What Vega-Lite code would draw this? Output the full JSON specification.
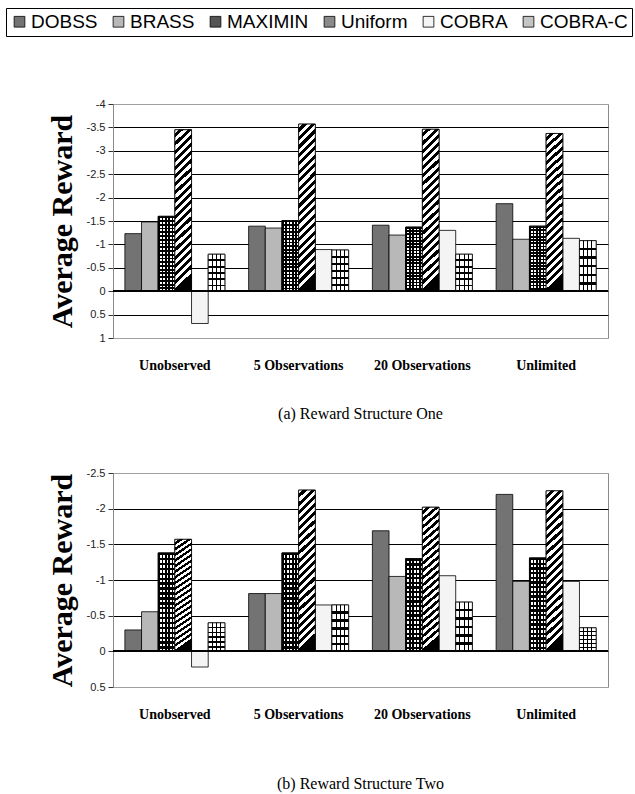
{
  "$schema": "https://vega.github.io/schema/vega-lite/v6.json",
  "background": "white",
  "padding": {"left": 5, "top": 7, "right": 0, "bottom": 0},
  "datasets": {
    "one": [
      {"condition": "Unobserved", "method": "DOBSS", "reward": -1.23},
      {"condition": "Unobserved", "method": "BRASS", "reward": -1.48},
      {"condition": "Unobserved", "method": "MAXIMIN", "reward": -1.6},
      {"condition": "Unobserved", "method": "Uniform", "reward": -3.45},
      {"condition": "Unobserved", "method": "COBRA", "reward": 0.69},
      {"condition": "Unobserved", "method": "COBRA-C", "reward": -0.79},
      {"condition": "5 Observations", "method": "DOBSS", "reward": -1.39},
      {"condition": "5 Observations", "method": "BRASS", "reward": -1.35},
      {"condition": "5 Observations", "method": "MAXIMIN", "reward": -1.51},
      {"condition": "5 Observations", "method": "Uniform", "reward": -3.57},
      {"condition": "5 Observations", "method": "COBRA", "reward": -0.89},
      {"condition": "5 Observations", "method": "COBRA-C", "reward": -0.88},
      {"condition": "20 Observations", "method": "DOBSS", "reward": -1.41},
      {"condition": "20 Observations", "method": "BRASS", "reward": -1.2},
      {"condition": "20 Observations", "method": "MAXIMIN", "reward": -1.37},
      {"condition": "20 Observations", "method": "Uniform", "reward": -3.46},
      {"condition": "20 Observations", "method": "COBRA", "reward": -1.3},
      {"condition": "20 Observations", "method": "COBRA-C", "reward": -0.79},
      {"condition": "Unlimited", "method": "DOBSS", "reward": -1.87},
      {"condition": "Unlimited", "method": "BRASS", "reward": -1.11},
      {"condition": "Unlimited", "method": "MAXIMIN", "reward": -1.39},
      {"condition": "Unlimited", "method": "Uniform", "reward": -3.37},
      {"condition": "Unlimited", "method": "COBRA", "reward": -1.13},
      {"condition": "Unlimited", "method": "COBRA-C", "reward": -1.08}
    ],
    "two": [
      {"condition": "Unobserved", "method": "DOBSS", "reward": -0.3},
      {"condition": "Unobserved", "method": "BRASS", "reward": -0.555},
      {"condition": "Unobserved", "method": "MAXIMIN", "reward": -1.38},
      {"condition": "Unobserved", "method": "Uniform", "reward": -1.57},
      {"condition": "Unobserved", "method": "COBRA", "reward": 0.22},
      {"condition": "Unobserved", "method": "COBRA-C", "reward": -0.4},
      {"condition": "5 Observations", "method": "DOBSS", "reward": -0.81},
      {"condition": "5 Observations", "method": "BRASS", "reward": -0.81},
      {"condition": "5 Observations", "method": "MAXIMIN", "reward": -1.38},
      {"condition": "5 Observations", "method": "Uniform", "reward": -2.26},
      {"condition": "5 Observations", "method": "COBRA", "reward": -0.65},
      {"condition": "5 Observations", "method": "COBRA-C", "reward": -0.65},
      {"condition": "20 Observations", "method": "DOBSS", "reward": -1.69},
      {"condition": "20 Observations", "method": "BRASS", "reward": -1.05},
      {"condition": "20 Observations", "method": "MAXIMIN", "reward": -1.3},
      {"condition": "20 Observations", "method": "Uniform", "reward": -2.02},
      {"condition": "20 Observations", "method": "COBRA", "reward": -1.06},
      {"condition": "20 Observations", "method": "COBRA-C", "reward": -0.69},
      {"condition": "Unlimited", "method": "DOBSS", "reward": -2.2},
      {"condition": "Unlimited", "method": "BRASS", "reward": -0.98},
      {"condition": "Unlimited", "method": "MAXIMIN", "reward": -1.31},
      {"condition": "Unlimited", "method": "Uniform", "reward": -2.25},
      {"condition": "Unlimited", "method": "COBRA", "reward": -0.98},
      {"condition": "Unlimited", "method": "COBRA-C", "reward": -0.33}
    ]
  },
  "config": {
    "view": {"stroke": "#8a8a8a", "strokeWidth": 1},
    "axisY": {
      "domainColor": "#8a8a8a",
      "tickColor": "#333",
      "tickSize": 5,
      "tickCount": 30,
      "labelFont": "Liberation Sans",
      "labelFontSize": 11,
      "labelColor": "#222",
      "labelPadding": 3,
      "labelOverlap": false,
      "grid": true,
      "gridWidth": 1,
      "titleFont": "Liberation Serif",
      "titleFontSize": 30,
      "titleFontWeight": "bold",
      "titleColor": "#000",
      "titlePadding": 9,
      "labelExpr": "(datum.value < 0 ? '-' : '') + format(abs(datum.value), '')"
    },
    "axisX": {
      "domain": false,
      "ticks": false,
      "tickSize": 0,
      "grid": false,
      "labelAngle": 0,
      "labelFont": "Liberation Serif",
      "labelFontWeight": "bold",
      "labelFontSize": 14,
      "labelColor": "#000",
      "labelPadding": 20,
      "title": null
    },
    "legend": {
      "orient": "none",
      "direction": "horizontal",
      "legendX": -107,
      "legendY": -96,
      "strokeColor": "#000",
      "fillColor": "#fff",
      "padding": 4,
      "labelFont": "Liberation Sans",
      "labelFontSize": 19,
      "labelColor": "#000",
      "symbolType": "square",
      "symbolSize": 115,
      "symbolStrokeColor": "#000",
      "symbolStrokeWidth": 0.8,
      "symbolOpacity": 1,
      "labelOffset": 2,
      "columnPadding": 11,
      "title": null
    },
    "title": {
      "font": "Liberation Serif",
      "fontSize": 16,
      "fontWeight": "normal",
      "color": "#000",
      "orient": "bottom",
      "anchor": "middle"
    }
  },
  "spacing": 43,
  "vconcat": [
    {
      "width": 495,
      "height": 234,
      "data": {"name": "one"},
      "title": {"text": "(a) Reward Structure One", "offset": 34},
      "encoding": {
        "x": {"field": "condition", "type": "nominal", "sort": ["Unobserved", "5 Observations", "20 Observations", "Unlimited"], "scale": {"paddingInner": 0.192, "paddingOuter": 0.096}},
        "xOffset": {"field": "method", "type": "nominal", "sort": ["DOBSS", "BRASS", "MAXIMIN", "Uniform", "COBRA", "COBRA-C"], "scale": {"domain": ["DOBSS", "BRASS", "MAXIMIN", "Uniform", "COBRA", "COBRA-C"], "paddingInner": 0, "paddingOuter": 0}},
        "y": {"field": "reward", "type": "quantitative", "scale": {"domain": [-4, 1], "reverse": true, "nice": false}, "axis": {"title": "Average Reward", "values": [-4, -3.5, -3, -2.5, -2, -1.5, -1, -0.5, 0, 0.5, 1], "gridColor": {"condition": {"test": "datum.value == -4 || datum.value == 1", "value": "#a0a0a0"}, "value": "#000000"}}}
      },
      "layer": [
        {
          "mark": {"type": "bar", "stroke": "#000", "strokeWidth": 0.8},
          "encoding": {
            "color": {"field": "method", "type": "nominal", "sort": ["DOBSS", "BRASS", "MAXIMIN", "Uniform", "COBRA", "COBRA-C"], "scale": {"domain": ["DOBSS", "BRASS", "MAXIMIN", "Uniform", "COBRA", "COBRA-C"], "range": ["#737373", "#b8b8b8", "#555555", "#8a8a8a", "#f4f4f4", "#c4c4c4"]}}
          }
        },
        {
          "transform": [{"filter": "datum.method == 'MAXIMIN'"}],
          "mark": {"type": "bar", "stroke": "#000", "strokeWidth": 0.8, "fill": {"gradient": "linear", "x1": 0, "y1": 0, "x2": 1, "y2": 0, "stops": [
                {"offset": 0, "color": "#000"}, {"offset": 0.1, "color": "#000"}, {"offset": 0.1, "color": "#fff"}, {"offset": 0.2, "color": "#fff"},
                {"offset": 0.2, "color": "#000"}, {"offset": 0.3, "color": "#000"}, {"offset": 0.3, "color": "#fff"}, {"offset": 0.4, "color": "#fff"},
                {"offset": 0.4, "color": "#000"}, {"offset": 0.5, "color": "#000"}, {"offset": 0.5, "color": "#fff"}, {"offset": 0.6, "color": "#fff"},
                {"offset": 0.6, "color": "#000"}, {"offset": 0.7, "color": "#000"}, {"offset": 0.7, "color": "#fff"}, {"offset": 0.8, "color": "#fff"},
                {"offset": 0.8, "color": "#000"}, {"offset": 0.9, "color": "#000"}, {"offset": 0.9, "color": "#fff"}, {"offset": 1, "color": "#fff"}
              ]}},
          "encoding": {}
        },
        {
          "transform": [{"filter": "datum.method == 'MAXIMIN'"}],
          "mark": {"type": "bar", "strokeWidth": 0, "fill": {"gradient": "linear", "x1": 0, "y1": 0, "x2": 0, "y2": 1, "stops": [
                {"offset": 0, "color": "#000"}, {"offset": 0.025, "color": "#000"}, {"offset": 0.025, "color": "rgba(0,0,0,0)"}, {"offset": 0.05, "color": "rgba(0,0,0,0)"},
                {"offset": 0.05, "color": "#000"}, {"offset": 0.075, "color": "#000"}, {"offset": 0.075, "color": "rgba(0,0,0,0)"}, {"offset": 0.1, "color": "rgba(0,0,0,0)"},
                {"offset": 0.1, "color": "#000"}, {"offset": 0.125, "color": "#000"}, {"offset": 0.125, "color": "rgba(0,0,0,0)"}, {"offset": 0.15, "color": "rgba(0,0,0,0)"},
                {"offset": 0.15, "color": "#000"}, {"offset": 0.175, "color": "#000"}, {"offset": 0.175, "color": "rgba(0,0,0,0)"}, {"offset": 0.2, "color": "rgba(0,0,0,0)"},
                {"offset": 0.2, "color": "#000"}, {"offset": 0.225, "color": "#000"}, {"offset": 0.225, "color": "rgba(0,0,0,0)"}, {"offset": 0.25, "color": "rgba(0,0,0,0)"},
                {"offset": 0.25, "color": "#000"}, {"offset": 0.275, "color": "#000"}, {"offset": 0.275, "color": "rgba(0,0,0,0)"}, {"offset": 0.3, "color": "rgba(0,0,0,0)"},
                {"offset": 0.3, "color": "#000"}, {"offset": 0.325, "color": "#000"}, {"offset": 0.325, "color": "rgba(0,0,0,0)"}, {"offset": 0.35, "color": "rgba(0,0,0,0)"},
                {"offset": 0.35, "color": "#000"}, {"offset": 0.375, "color": "#000"}, {"offset": 0.375, "color": "rgba(0,0,0,0)"}, {"offset": 0.4, "color": "rgba(0,0,0,0)"},
                {"offset": 0.4, "color": "#000"}, {"offset": 0.425, "color": "#000"}, {"offset": 0.425, "color": "rgba(0,0,0,0)"}, {"offset": 0.45, "color": "rgba(0,0,0,0)"},
                {"offset": 0.45, "color": "#000"}, {"offset": 0.475, "color": "#000"}, {"offset": 0.475, "color": "rgba(0,0,0,0)"}, {"offset": 0.5, "color": "rgba(0,0,0,0)"},
                {"offset": 0.5, "color": "#000"}, {"offset": 0.525, "color": "#000"}, {"offset": 0.525, "color": "rgba(0,0,0,0)"}, {"offset": 0.55, "color": "rgba(0,0,0,0)"},
                {"offset": 0.55, "color": "#000"}, {"offset": 0.575, "color": "#000"}, {"offset": 0.575, "color": "rgba(0,0,0,0)"}, {"offset": 0.6, "color": "rgba(0,0,0,0)"},
                {"offset": 0.6, "color": "#000"}, {"offset": 0.625, "color": "#000"}, {"offset": 0.625, "color": "rgba(0,0,0,0)"}, {"offset": 0.65, "color": "rgba(0,0,0,0)"},
                {"offset": 0.65, "color": "#000"}, {"offset": 0.675, "color": "#000"}, {"offset": 0.675, "color": "rgba(0,0,0,0)"}, {"offset": 0.7, "color": "rgba(0,0,0,0)"},
                {"offset": 0.7, "color": "#000"}, {"offset": 0.725, "color": "#000"}, {"offset": 0.725, "color": "rgba(0,0,0,0)"}, {"offset": 0.75, "color": "rgba(0,0,0,0)"},
                {"offset": 0.75, "color": "#000"}, {"offset": 0.775, "color": "#000"}, {"offset": 0.775, "color": "rgba(0,0,0,0)"}, {"offset": 0.8, "color": "rgba(0,0,0,0)"},
                {"offset": 0.8, "color": "#000"}, {"offset": 0.825, "color": "#000"}, {"offset": 0.825, "color": "rgba(0,0,0,0)"}, {"offset": 0.85, "color": "rgba(0,0,0,0)"},
                {"offset": 0.85, "color": "#000"}, {"offset": 0.875, "color": "#000"}, {"offset": 0.875, "color": "rgba(0,0,0,0)"}, {"offset": 0.9, "color": "rgba(0,0,0,0)"},
                {"offset": 0.9, "color": "#000"}, {"offset": 0.925, "color": "#000"}, {"offset": 0.925, "color": "rgba(0,0,0,0)"}, {"offset": 0.95, "color": "rgba(0,0,0,0)"},
                {"offset": 0.95, "color": "#000"}, {"offset": 0.975, "color": "#000"}, {"offset": 0.975, "color": "rgba(0,0,0,0)"}, {"offset": 1, "color": "rgba(0,0,0,0)"}
              ]}},
          "encoding": {}
        },
        {
          "transform": [{"filter": "datum.method == 'Uniform'"}],
          "mark": {"type": "bar", "stroke": "#000", "strokeWidth": 0.8, "fill": {"gradient": "linear", "x1": 0, "y1": 0, "x2": 0.1, "y2": 1, "stops": [
                {"offset": 0, "color": "#fff"}, {"offset": 0.025, "color": "#fff"}, {"offset": 0.025, "color": "#000"}, {"offset": 0.05, "color": "#000"},
                {"offset": 0.05, "color": "#fff"}, {"offset": 0.075, "color": "#fff"}, {"offset": 0.075, "color": "#000"}, {"offset": 0.1, "color": "#000"},
                {"offset": 0.1, "color": "#fff"}, {"offset": 0.125, "color": "#fff"}, {"offset": 0.125, "color": "#000"}, {"offset": 0.15, "color": "#000"},
                {"offset": 0.15, "color": "#fff"}, {"offset": 0.175, "color": "#fff"}, {"offset": 0.175, "color": "#000"}, {"offset": 0.2, "color": "#000"},
                {"offset": 0.2, "color": "#fff"}, {"offset": 0.225, "color": "#fff"}, {"offset": 0.225, "color": "#000"}, {"offset": 0.25, "color": "#000"},
                {"offset": 0.25, "color": "#fff"}, {"offset": 0.275, "color": "#fff"}, {"offset": 0.275, "color": "#000"}, {"offset": 0.3, "color": "#000"},
                {"offset": 0.3, "color": "#fff"}, {"offset": 0.325, "color": "#fff"}, {"offset": 0.325, "color": "#000"}, {"offset": 0.35, "color": "#000"},
                {"offset": 0.35, "color": "#fff"}, {"offset": 0.375, "color": "#fff"}, {"offset": 0.375, "color": "#000"}, {"offset": 0.4, "color": "#000"},
                {"offset": 0.4, "color": "#fff"}, {"offset": 0.425, "color": "#fff"}, {"offset": 0.425, "color": "#000"}, {"offset": 0.45, "color": "#000"},
                {"offset": 0.45, "color": "#fff"}, {"offset": 0.475, "color": "#fff"}, {"offset": 0.475, "color": "#000"}, {"offset": 0.5, "color": "#000"},
                {"offset": 0.5, "color": "#fff"}, {"offset": 0.525, "color": "#fff"}, {"offset": 0.525, "color": "#000"}, {"offset": 0.55, "color": "#000"},
                {"offset": 0.55, "color": "#fff"}, {"offset": 0.575, "color": "#fff"}, {"offset": 0.575, "color": "#000"}, {"offset": 0.6, "color": "#000"},
                {"offset": 0.6, "color": "#fff"}, {"offset": 0.625, "color": "#fff"}, {"offset": 0.625, "color": "#000"}, {"offset": 0.65, "color": "#000"},
                {"offset": 0.65, "color": "#fff"}, {"offset": 0.675, "color": "#fff"}, {"offset": 0.675, "color": "#000"}, {"offset": 0.7, "color": "#000"},
                {"offset": 0.7, "color": "#fff"}, {"offset": 0.725, "color": "#fff"}, {"offset": 0.725, "color": "#000"}, {"offset": 0.75, "color": "#000"},
                {"offset": 0.75, "color": "#fff"}, {"offset": 0.775, "color": "#fff"}, {"offset": 0.775, "color": "#000"}, {"offset": 0.8, "color": "#000"},
                {"offset": 0.8, "color": "#fff"}, {"offset": 0.825, "color": "#fff"}, {"offset": 0.825, "color": "#000"}, {"offset": 0.85, "color": "#000"},
                {"offset": 0.85, "color": "#fff"}, {"offset": 0.875, "color": "#fff"}, {"offset": 0.875, "color": "#000"}, {"offset": 0.9, "color": "#000"},
                {"offset": 0.9, "color": "#fff"}, {"offset": 0.925, "color": "#fff"}, {"offset": 0.925, "color": "#000"}, {"offset": 0.95, "color": "#000"},
                {"offset": 0.95, "color": "#fff"}, {"offset": 0.975, "color": "#fff"}, {"offset": 0.975, "color": "#000"}, {"offset": 1, "color": "#000"}
              ]}},
          "encoding": {}
        },
        {
          "transform": [{"filter": "datum.method == 'COBRA-C'"}],
          "mark": {"type": "bar", "stroke": "#000", "strokeWidth": 0.8, "fill": {"gradient": "linear", "x1": 0, "y1": 0, "x2": 1, "y2": 0, "stops": [
                {"offset": 0, "color": "#fff"}, {"offset": 0.22, "color": "#fff"}, {"offset": 0.22, "color": "#000"}, {"offset": 0.28, "color": "#000"},
                {"offset": 0.28, "color": "#fff"}, {"offset": 0.47, "color": "#fff"}, {"offset": 0.47, "color": "#000"}, {"offset": 0.53, "color": "#000"},
                {"offset": 0.53, "color": "#fff"}, {"offset": 0.72, "color": "#fff"}, {"offset": 0.72, "color": "#000"}, {"offset": 0.78, "color": "#000"},
                {"offset": 0.78, "color": "#fff"}, {"offset": 1, "color": "#fff"}
              ]}},
          "encoding": {}
        },
        {
          "transform": [{"filter": "datum.method == 'COBRA-C'"}],
          "mark": {"type": "bar", "strokeWidth": 0, "fill": {"gradient": "linear", "x1": 0, "y1": 0, "x2": 0, "y2": 1, "stops": [
                {"offset": 0, "color": "rgba(0,0,0,0)"}, {"offset": 0.14, "color": "rgba(0,0,0,0)"}, {"offset": 0.14, "color": "#000"}, {"offset": 0.19, "color": "#000"},
                {"offset": 0.19, "color": "rgba(0,0,0,0)"}, {"offset": 0.31, "color": "rgba(0,0,0,0)"}, {"offset": 0.31, "color": "#000"}, {"offset": 0.36, "color": "#000"},
                {"offset": 0.36, "color": "rgba(0,0,0,0)"}, {"offset": 0.48, "color": "rgba(0,0,0,0)"}, {"offset": 0.48, "color": "#000"}, {"offset": 0.53, "color": "#000"},
                {"offset": 0.53, "color": "rgba(0,0,0,0)"}, {"offset": 0.65, "color": "rgba(0,0,0,0)"}, {"offset": 0.65, "color": "#000"}, {"offset": 0.7, "color": "#000"},
                {"offset": 0.7, "color": "rgba(0,0,0,0)"}, {"offset": 0.82, "color": "rgba(0,0,0,0)"}, {"offset": 0.82, "color": "#000"}, {"offset": 0.87, "color": "#000"},
                {"offset": 0.87, "color": "rgba(0,0,0,0)"}, {"offset": 1, "color": "rgba(0,0,0,0)"}
              ]}},
          "encoding": {}
        },
        {
          "mark": {"type": "rule", "color": "#000", "strokeWidth": 1},
          "encoding": {"y": {"datum": 0}, "x": null, "xOffset": null}
        }
      ]
    },
    {
      "width": 495,
      "height": 214,
      "data": {"name": "two"},
      "title": {"text": "(b) Reward Structure Two", "offset": 55},
      "encoding": {
        "x": {"field": "condition", "type": "nominal", "sort": ["Unobserved", "5 Observations", "20 Observations", "Unlimited"], "scale": {"paddingInner": 0.192, "paddingOuter": 0.096}},
        "xOffset": {"field": "method", "type": "nominal", "sort": ["DOBSS", "BRASS", "MAXIMIN", "Uniform", "COBRA", "COBRA-C"], "scale": {"domain": ["DOBSS", "BRASS", "MAXIMIN", "Uniform", "COBRA", "COBRA-C"], "paddingInner": 0, "paddingOuter": 0}},
        "y": {"field": "reward", "type": "quantitative", "scale": {"domain": [-2.5, 0.5], "reverse": true, "nice": false}, "axis": {"title": "Average Reward", "values": [-2.5, -2, -1.5, -1, -0.5, 0, 0.5], "gridColor": {"condition": {"test": "datum.value == -2.5 || datum.value == 0.5", "value": "#a0a0a0"}, "value": "#000000"}}}
      },
      "layer": [
        {
          "mark": {"type": "bar", "stroke": "#000", "strokeWidth": 0.8},
          "encoding": {
            "color": {"field": "method", "type": "nominal", "sort": ["DOBSS", "BRASS", "MAXIMIN", "Uniform", "COBRA", "COBRA-C"]}
          }
        },
        {
          "transform": [{"filter": "datum.method == 'MAXIMIN'"}],
          "mark": {"type": "bar", "stroke": "#000", "strokeWidth": 0.8, "fill": {"gradient": "linear", "x1": 0, "y1": 0, "x2": 1, "y2": 0, "stops": [
                {"offset": 0, "color": "#000"}, {"offset": 0.1, "color": "#000"}, {"offset": 0.1, "color": "#fff"}, {"offset": 0.2, "color": "#fff"},
                {"offset": 0.2, "color": "#000"}, {"offset": 0.3, "color": "#000"}, {"offset": 0.3, "color": "#fff"}, {"offset": 0.4, "color": "#fff"},
                {"offset": 0.4, "color": "#000"}, {"offset": 0.5, "color": "#000"}, {"offset": 0.5, "color": "#fff"}, {"offset": 0.6, "color": "#fff"},
                {"offset": 0.6, "color": "#000"}, {"offset": 0.7, "color": "#000"}, {"offset": 0.7, "color": "#fff"}, {"offset": 0.8, "color": "#fff"},
                {"offset": 0.8, "color": "#000"}, {"offset": 0.9, "color": "#000"}, {"offset": 0.9, "color": "#fff"}, {"offset": 1, "color": "#fff"}
              ]}},
          "encoding": {}
        },
        {
          "transform": [{"filter": "datum.method == 'MAXIMIN'"}],
          "mark": {"type": "bar", "strokeWidth": 0, "fill": {"gradient": "linear", "x1": 0, "y1": 0, "x2": 0, "y2": 1, "stops": [
                {"offset": 0, "color": "#000"}, {"offset": 0.025, "color": "#000"}, {"offset": 0.025, "color": "rgba(0,0,0,0)"}, {"offset": 0.05, "color": "rgba(0,0,0,0)"},
                {"offset": 0.05, "color": "#000"}, {"offset": 0.075, "color": "#000"}, {"offset": 0.075, "color": "rgba(0,0,0,0)"}, {"offset": 0.1, "color": "rgba(0,0,0,0)"},
                {"offset": 0.1, "color": "#000"}, {"offset": 0.125, "color": "#000"}, {"offset": 0.125, "color": "rgba(0,0,0,0)"}, {"offset": 0.15, "color": "rgba(0,0,0,0)"},
                {"offset": 0.15, "color": "#000"}, {"offset": 0.175, "color": "#000"}, {"offset": 0.175, "color": "rgba(0,0,0,0)"}, {"offset": 0.2, "color": "rgba(0,0,0,0)"},
                {"offset": 0.2, "color": "#000"}, {"offset": 0.225, "color": "#000"}, {"offset": 0.225, "color": "rgba(0,0,0,0)"}, {"offset": 0.25, "color": "rgba(0,0,0,0)"},
                {"offset": 0.25, "color": "#000"}, {"offset": 0.275, "color": "#000"}, {"offset": 0.275, "color": "rgba(0,0,0,0)"}, {"offset": 0.3, "color": "rgba(0,0,0,0)"},
                {"offset": 0.3, "color": "#000"}, {"offset": 0.325, "color": "#000"}, {"offset": 0.325, "color": "rgba(0,0,0,0)"}, {"offset": 0.35, "color": "rgba(0,0,0,0)"},
                {"offset": 0.35, "color": "#000"}, {"offset": 0.375, "color": "#000"}, {"offset": 0.375, "color": "rgba(0,0,0,0)"}, {"offset": 0.4, "color": "rgba(0,0,0,0)"},
                {"offset": 0.4, "color": "#000"}, {"offset": 0.425, "color": "#000"}, {"offset": 0.425, "color": "rgba(0,0,0,0)"}, {"offset": 0.45, "color": "rgba(0,0,0,0)"},
                {"offset": 0.45, "color": "#000"}, {"offset": 0.475, "color": "#000"}, {"offset": 0.475, "color": "rgba(0,0,0,0)"}, {"offset": 0.5, "color": "rgba(0,0,0,0)"},
                {"offset": 0.5, "color": "#000"}, {"offset": 0.525, "color": "#000"}, {"offset": 0.525, "color": "rgba(0,0,0,0)"}, {"offset": 0.55, "color": "rgba(0,0,0,0)"},
                {"offset": 0.55, "color": "#000"}, {"offset": 0.575, "color": "#000"}, {"offset": 0.575, "color": "rgba(0,0,0,0)"}, {"offset": 0.6, "color": "rgba(0,0,0,0)"},
                {"offset": 0.6, "color": "#000"}, {"offset": 0.625, "color": "#000"}, {"offset": 0.625, "color": "rgba(0,0,0,0)"}, {"offset": 0.65, "color": "rgba(0,0,0,0)"},
                {"offset": 0.65, "color": "#000"}, {"offset": 0.675, "color": "#000"}, {"offset": 0.675, "color": "rgba(0,0,0,0)"}, {"offset": 0.7, "color": "rgba(0,0,0,0)"},
                {"offset": 0.7, "color": "#000"}, {"offset": 0.725, "color": "#000"}, {"offset": 0.725, "color": "rgba(0,0,0,0)"}, {"offset": 0.75, "color": "rgba(0,0,0,0)"},
                {"offset": 0.75, "color": "#000"}, {"offset": 0.775, "color": "#000"}, {"offset": 0.775, "color": "rgba(0,0,0,0)"}, {"offset": 0.8, "color": "rgba(0,0,0,0)"},
                {"offset": 0.8, "color": "#000"}, {"offset": 0.825, "color": "#000"}, {"offset": 0.825, "color": "rgba(0,0,0,0)"}, {"offset": 0.85, "color": "rgba(0,0,0,0)"},
                {"offset": 0.85, "color": "#000"}, {"offset": 0.875, "color": "#000"}, {"offset": 0.875, "color": "rgba(0,0,0,0)"}, {"offset": 0.9, "color": "rgba(0,0,0,0)"},
                {"offset": 0.9, "color": "#000"}, {"offset": 0.925, "color": "#000"}, {"offset": 0.925, "color": "rgba(0,0,0,0)"}, {"offset": 0.95, "color": "rgba(0,0,0,0)"},
                {"offset": 0.95, "color": "#000"}, {"offset": 0.975, "color": "#000"}, {"offset": 0.975, "color": "rgba(0,0,0,0)"}, {"offset": 1, "color": "rgba(0,0,0,0)"}
              ]}},
          "encoding": {}
        },
        {
          "transform": [{"filter": "datum.method == 'Uniform'"}],
          "mark": {"type": "bar", "stroke": "#000", "strokeWidth": 0.8, "fill": {"gradient": "linear", "x1": 0, "y1": 0, "x2": 0.1, "y2": 1, "stops": [
                {"offset": 0, "color": "#fff"}, {"offset": 0.025, "color": "#fff"}, {"offset": 0.025, "color": "#000"}, {"offset": 0.05, "color": "#000"},
                {"offset": 0.05, "color": "#fff"}, {"offset": 0.075, "color": "#fff"}, {"offset": 0.075, "color": "#000"}, {"offset": 0.1, "color": "#000"},
                {"offset": 0.1, "color": "#fff"}, {"offset": 0.125, "color": "#fff"}, {"offset": 0.125, "color": "#000"}, {"offset": 0.15, "color": "#000"},
                {"offset": 0.15, "color": "#fff"}, {"offset": 0.175, "color": "#fff"}, {"offset": 0.175, "color": "#000"}, {"offset": 0.2, "color": "#000"},
                {"offset": 0.2, "color": "#fff"}, {"offset": 0.225, "color": "#fff"}, {"offset": 0.225, "color": "#000"}, {"offset": 0.25, "color": "#000"},
                {"offset": 0.25, "color": "#fff"}, {"offset": 0.275, "color": "#fff"}, {"offset": 0.275, "color": "#000"}, {"offset": 0.3, "color": "#000"},
                {"offset": 0.3, "color": "#fff"}, {"offset": 0.325, "color": "#fff"}, {"offset": 0.325, "color": "#000"}, {"offset": 0.35, "color": "#000"},
                {"offset": 0.35, "color": "#fff"}, {"offset": 0.375, "color": "#fff"}, {"offset": 0.375, "color": "#000"}, {"offset": 0.4, "color": "#000"},
                {"offset": 0.4, "color": "#fff"}, {"offset": 0.425, "color": "#fff"}, {"offset": 0.425, "color": "#000"}, {"offset": 0.45, "color": "#000"},
                {"offset": 0.45, "color": "#fff"}, {"offset": 0.475, "color": "#fff"}, {"offset": 0.475, "color": "#000"}, {"offset": 0.5, "color": "#000"},
                {"offset": 0.5, "color": "#fff"}, {"offset": 0.525, "color": "#fff"}, {"offset": 0.525, "color": "#000"}, {"offset": 0.55, "color": "#000"},
                {"offset": 0.55, "color": "#fff"}, {"offset": 0.575, "color": "#fff"}, {"offset": 0.575, "color": "#000"}, {"offset": 0.6, "color": "#000"},
                {"offset": 0.6, "color": "#fff"}, {"offset": 0.625, "color": "#fff"}, {"offset": 0.625, "color": "#000"}, {"offset": 0.65, "color": "#000"},
                {"offset": 0.65, "color": "#fff"}, {"offset": 0.675, "color": "#fff"}, {"offset": 0.675, "color": "#000"}, {"offset": 0.7, "color": "#000"},
                {"offset": 0.7, "color": "#fff"}, {"offset": 0.725, "color": "#fff"}, {"offset": 0.725, "color": "#000"}, {"offset": 0.75, "color": "#000"},
                {"offset": 0.75, "color": "#fff"}, {"offset": 0.775, "color": "#fff"}, {"offset": 0.775, "color": "#000"}, {"offset": 0.8, "color": "#000"},
                {"offset": 0.8, "color": "#fff"}, {"offset": 0.825, "color": "#fff"}, {"offset": 0.825, "color": "#000"}, {"offset": 0.85, "color": "#000"},
                {"offset": 0.85, "color": "#fff"}, {"offset": 0.875, "color": "#fff"}, {"offset": 0.875, "color": "#000"}, {"offset": 0.9, "color": "#000"},
                {"offset": 0.9, "color": "#fff"}, {"offset": 0.925, "color": "#fff"}, {"offset": 0.925, "color": "#000"}, {"offset": 0.95, "color": "#000"},
                {"offset": 0.95, "color": "#fff"}, {"offset": 0.975, "color": "#fff"}, {"offset": 0.975, "color": "#000"}, {"offset": 1, "color": "#000"}
              ]}},
          "encoding": {}
        },
        {
          "transform": [{"filter": "datum.method == 'COBRA-C'"}],
          "mark": {"type": "bar", "stroke": "#000", "strokeWidth": 0.8, "fill": {"gradient": "linear", "x1": 0, "y1": 0, "x2": 1, "y2": 0, "stops": [
                {"offset": 0, "color": "#fff"}, {"offset": 0.22, "color": "#fff"}, {"offset": 0.22, "color": "#000"}, {"offset": 0.28, "color": "#000"},
                {"offset": 0.28, "color": "#fff"}, {"offset": 0.47, "color": "#fff"}, {"offset": 0.47, "color": "#000"}, {"offset": 0.53, "color": "#000"},
                {"offset": 0.53, "color": "#fff"}, {"offset": 0.72, "color": "#fff"}, {"offset": 0.72, "color": "#000"}, {"offset": 0.78, "color": "#000"},
                {"offset": 0.78, "color": "#fff"}, {"offset": 1, "color": "#fff"}
              ]}},
          "encoding": {}
        },
        {
          "transform": [{"filter": "datum.method == 'COBRA-C'"}],
          "mark": {"type": "bar", "strokeWidth": 0, "fill": {"gradient": "linear", "x1": 0, "y1": 0, "x2": 0, "y2": 1, "stops": [
                {"offset": 0, "color": "rgba(0,0,0,0)"}, {"offset": 0.14, "color": "rgba(0,0,0,0)"}, {"offset": 0.14, "color": "#000"}, {"offset": 0.19, "color": "#000"},
                {"offset": 0.19, "color": "rgba(0,0,0,0)"}, {"offset": 0.31, "color": "rgba(0,0,0,0)"}, {"offset": 0.31, "color": "#000"}, {"offset": 0.36, "color": "#000"},
                {"offset": 0.36, "color": "rgba(0,0,0,0)"}, {"offset": 0.48, "color": "rgba(0,0,0,0)"}, {"offset": 0.48, "color": "#000"}, {"offset": 0.53, "color": "#000"},
                {"offset": 0.53, "color": "rgba(0,0,0,0)"}, {"offset": 0.65, "color": "rgba(0,0,0,0)"}, {"offset": 0.65, "color": "#000"}, {"offset": 0.7, "color": "#000"},
                {"offset": 0.7, "color": "rgba(0,0,0,0)"}, {"offset": 0.82, "color": "rgba(0,0,0,0)"}, {"offset": 0.82, "color": "#000"}, {"offset": 0.87, "color": "#000"},
                {"offset": 0.87, "color": "rgba(0,0,0,0)"}, {"offset": 1, "color": "rgba(0,0,0,0)"}
              ]}},
          "encoding": {}
        },
        {
          "mark": {"type": "rule", "color": "#000", "strokeWidth": 1},
          "encoding": {"y": {"datum": 0}, "x": null, "xOffset": null}
        }
      ]
    }
  ]
}
